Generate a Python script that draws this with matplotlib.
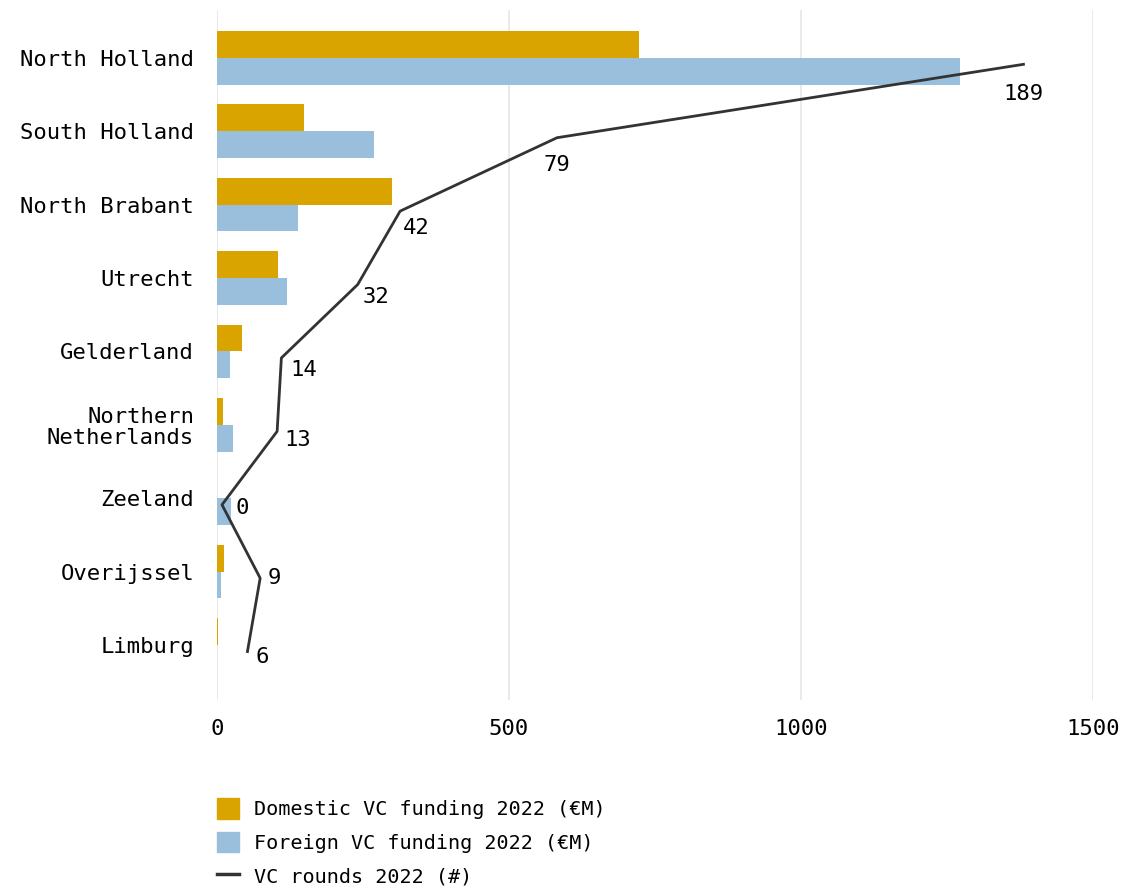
import matplotlib.pyplot as plt
import numpy as np
import matplotlib.patches as mpatches
from matplotlib.lines import Line2D

plt.rcParams['font.family'] = ['DejaVu Sans Mono']

# data
regions = ['North Holland', 'South Holland', 'North Brabant', 'Utrecht', 'Gelderland',
           'Northern\nNetherlands', 'Zeeland', 'Overijssel', 'Limburg']
domestic = [723, 149, 300, 104, 43, 10, 0, 12, 1]
foreign = [1272, 269, 139, 120, 22, 27, 24, 7, 0]
rounds = [189, 79, 42, 32, 14, 13, 0, 9, 6]

# label offsets (pixels) for the round counts
label_off = [(0, -30), (0, -27), (16, -17), (18, -12), (22, -12), (21, -9), (20, -3), (14, 0), (15, -5)]

c_dom = '#D9A400'
c_for = '#99BFDC'
c_line = '#333333'

fig = plt.figure(figsize=(11.46, 8.86), dpi=100)
ax = fig.add_axes([217/1146, 1 - 700/886, (1093 - 217)/1146, 690/886])

y = np.arange(len(regions))
h = 0.365
ax.barh(y - h/2, domestic, height=h, color=c_dom, zorder=2)
ax.barh(y + h/2, foreign, height=h, color=c_for, zorder=2)

ax.set_xlim(0, 1500)
ax.set_ylim(8.75, -0.65)
ax.set_xticks([0, 500, 1000, 1500])
ax.set_yticks(y)
ax.set_yticklabels(regions, fontsize=16, linespacing=1.1)
ax.tick_params(axis='both', length=0, labelsize=16)
ax.tick_params(axis='x', pad=14)
ax.tick_params(axis='y', pad=16.5)
for lbl in ax.get_yticklabels():
    lbl.set_horizontalalignment('right')
ax.grid(axis='x', color='#e6e6e6', linewidth=1.2, zorder=0)
for s in ax.spines.values():
    s.set_visible(False)

# rounds on a hidden secondary x axis
ax2 = ax.twiny()
ax2.set_xlim(-1.18, 205.4)
ax2.set_ylim(8.75, -0.65)
yl = y + 0.09
ax2.plot(rounds, yl, color=c_line, linewidth=2, zorder=3)
for i, r in enumerate(rounds):
    dx, dy = label_off[i]
    ax2.annotate(str(r), (r, yl[i]), xytext=(dx, dy), textcoords='offset pixels',
                 ha='center', va='center', fontsize=16, color='black')
ax2.set_xticks([])
for s in ax2.spines.values():
    s.set_visible(False)

handles = [mpatches.Patch(color=c_dom, label='Domestic VC funding 2022 (€M)'),
           mpatches.Patch(color=c_for, label='Foreign VC funding 2022 (€M)'),
           Line2D([0], [0], color=c_line, linewidth=2.5, label='VC rounds 2022 (#)')]
fig.legend(handles=handles, loc='upper left', bbox_to_anchor=(217/1146, 1 - 798/886),
           frameon=False, fontsize=14.5, handlelength=1.1, handleheight=1.2,
           handletextpad=0.75, labelspacing=0.62, borderpad=0, borderaxespad=0)

fig.savefig('out.png', dpi=100)
